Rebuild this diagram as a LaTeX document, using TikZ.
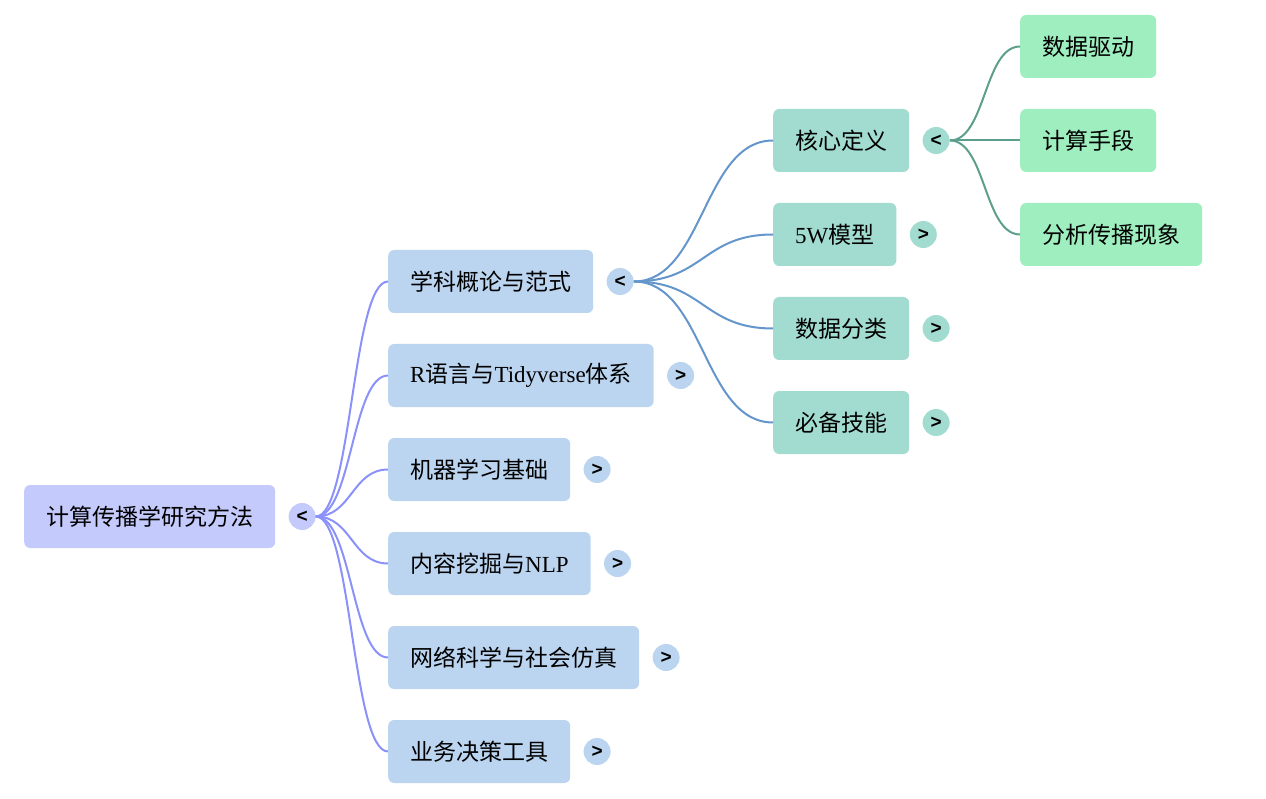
\documentclass[tikz,border=0pt]{standalone}
\usepackage{fontspec}
\setmainfont{Liberation Serif}
\newfontfamily\cjk{Noto Sans CJK SC}
\newfontfamily\togglefont{Liberation Sans}
\usetikzlibrary{positioning}
\definecolor{rootfill}{HTML}{C5CAFC}
\definecolor{topicfill}{HTML}{BBD5F0}
\definecolor{subfill}{HTML}{A2DCD0}
\definecolor{leaffill}{HTML}{9EEEBF}
\definecolor{rootedge}{HTML}{8A92FA}
\definecolor{topicedge}{HTML}{6496CC}
\definecolor{subedge}{HTML}{5E9E8C}
\newcommand\lat[1]{{\rmfamily #1}}

\begin{document}
\begin{tikzpicture}[x=1pt,y=-1pt,
  box/.style={anchor=west,rounded corners=6pt,minimum height=63pt,inner xsep=22pt,
    font=\cjk\fontsize{23}{27}\selectfont},
  rootbox/.style={box,fill=rootfill},
  topicbox/.style={box,fill=topicfill},
  subbox/.style={box,fill=subfill},
  leafbox/.style={box,fill=leaffill},
  toggle/.style={circle,minimum size=27pt,inner sep=0pt,
    font=\togglefont\bfseries\fontsize{19}{19}\selectfont},
  link/.style={line width=2pt}]
  \useasboundingbox (0,0) rectangle (1266,799);

  % root
  \node[rootbox] (root) at (24,516.5) {计算传播学研究方法};
  \node[toggle,fill=rootfill,right=13pt of root] (troot) {<};

  % first level
  \node[topicbox] (n1) at (388,281.5) {学科概论与范式};
  \node[topicbox] (n2) at (388,375.5) {\lat{R}语言与\lat{Tidyverse}体系};
  \node[topicbox] (n3) at (388,469.5) {机器学习基础};
  \node[topicbox] (n4) at (388,563.5) {内容挖掘与\lat{NLP}};
  \node[topicbox] (n5) at (388,657.5) {网络科学与社会仿真};
  \node[topicbox] (n6) at (388,751.5) {业务决策工具};
  \node[toggle,fill=topicfill,right=13pt of n1] (t1) {<};
  \foreach \i in {2,...,6}
    \node[toggle,fill=topicfill,right=13pt of n\i] (t\i) {>};

  % second level
  \node[subbox] (s1) at (773,140.5) {核心定义};
  \node[subbox] (s2) at (773,234.5) {\lat{5W}模型};
  \node[subbox] (s3) at (773,328.5) {数据分类};
  \node[subbox] (s4) at (773,422.5) {必备技能};
  \node[toggle,fill=subfill,right=13pt of s1] (ts1) {<};
  \foreach \i in {2,3,4}
    \node[toggle,fill=subfill,right=13pt of s\i] (ts\i) {>};

  % third level
  \node[leafbox] (l1) at (1020,46.5) {数据驱动};
  \node[leafbox] (l2) at (1020,140.5) {计算手段};
  \node[leafbox] (l3) at (1020,234.5) {分析传播现象};

  % connectors
  \foreach \i in {1,...,6}
    \draw[link,rootedge] (troot.east) .. controls +(36,0) and +(-36,0) .. (n\i.west);
  \foreach \i in {1,...,4}
    \draw[link,topicedge] (t1.east) .. controls +(70,0) and +(-70,0) .. (s\i.west);
  \foreach \i in {1,2,3}
    \draw[link,subedge] (ts1.east) .. controls +(36,0) and +(-36,0) .. (l\i.west);
\end{tikzpicture}
\end{document}
